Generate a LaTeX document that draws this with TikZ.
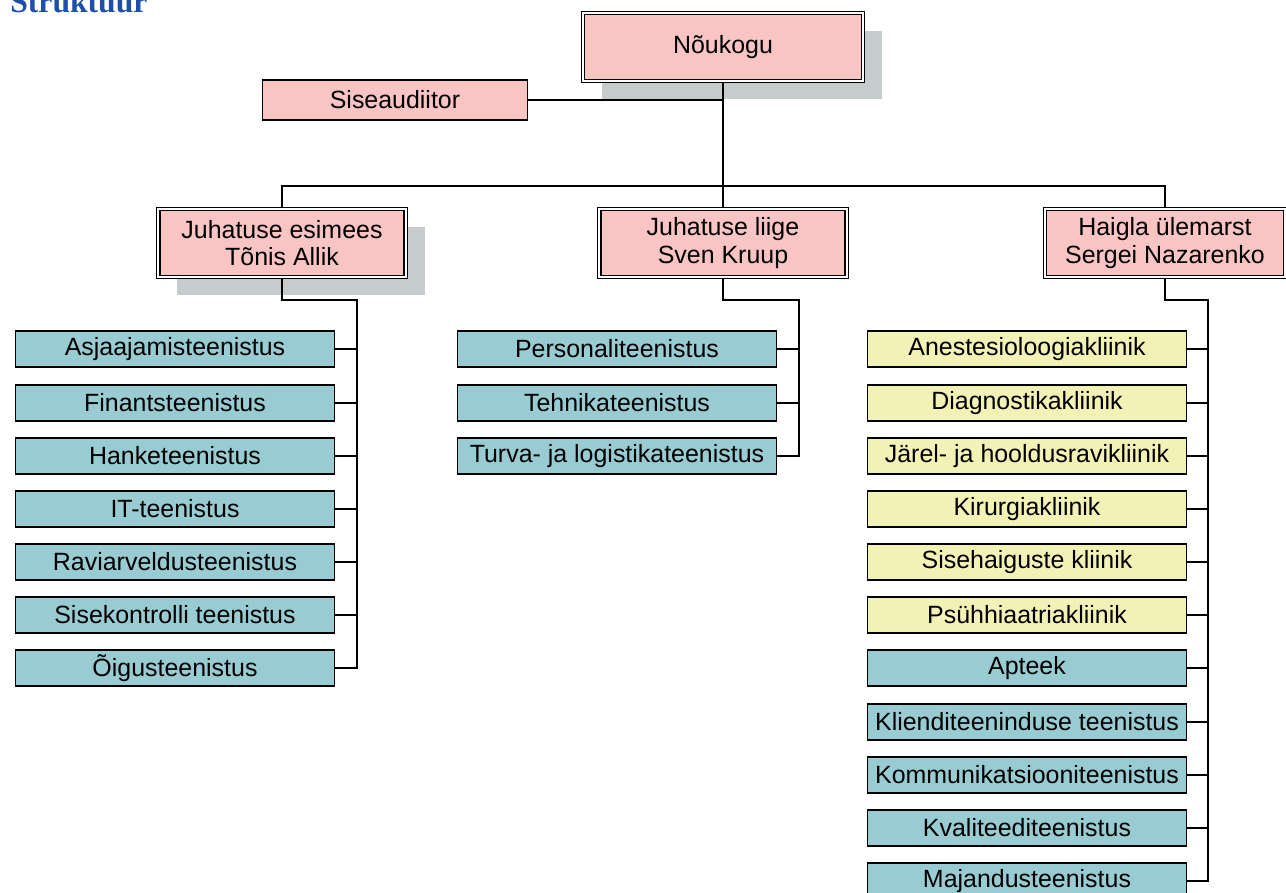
\documentclass[tikz,border=0pt]{standalone}
\usepackage{fontspec}
\setmainfont{Liberation Sans}
\newfontfamily\titlefont{Liberation Serif}
\usetikzlibrary{shadows}

\definecolor{roosa}{RGB}{248,196,196}
\definecolor{sinine}{RGB}{152,204,210}
\definecolor{kollane}{RGB}{242,242,182}
\definecolor{vari}{RGB}{198,204,204}
\definecolor{pealkiri}{RGB}{30,80,170}

\begin{document}
\begin{tikzpicture}
      [x=0.02cm, y=-0.02cm, font=\fontsize{14.2}{15.5}\selectfont,
       juht/.style={rectangle,draw=black,double,double distance=1.2pt,line width=0.7pt,
                    fill=roosa,minimum height=1.36cm,align=center,inner sep=0pt},
       varjuga/.style={drop shadow={shadow xshift=0.38cm,shadow yshift=-0.36cm,fill=vari,opacity=1}},
       audit/.style={rectangle,draw=black,line width=0.8pt,fill=roosa,
                     minimum width=5.3cm,minimum height=0.8cm,inner sep=0pt},
       teenistus/.style={rectangle,draw=black,line width=0.8pt,fill=sinine,
                         minimum width=6.38cm,minimum height=0.72cm,inner sep=0pt},
       kliinik/.style={teenistus,fill=kollane},
       joon/.style={line width=0.6pt}]
      \path[use as bounding box, clip] (0,0) rectangle (1286,893);

      \node (P) at (10,12) [anchor=base west,inner sep=0pt,text=pealkiri,
            font=\titlefont\bfseries\fontsize{18}{20}\selectfont] {Struktuur};

      \node (N) at (723,47) [juht,varjuga,minimum width=5.6cm] {Nõukogu};
      \node (S) at (395,100) [audit] {Siseaudiitor};

      \node (J1) at (282,243) [juht,varjuga,minimum width=4.95cm] {Juhatuse esimees\\Tõnis Allik};
      \node (J2) at (723,243) [juht,minimum width=4.95cm] {Juhatuse liige\\Sven Kruup};
      \node (J3) at (1165,243) [juht,minimum width=4.8cm] {Haigla ülemarst\\Sergei Nazarenko};

      \coordinate (T) at (723,186);
      \coordinate (R1) at (357,300);
      \coordinate (R2) at (799,300);
      \coordinate (R3) at (1208,300);

      \node (A1) at (175,349) [teenistus] {Asjaajamisteenistus};
      \node (A2) at (175,403) [teenistus] {Finantsteenistus};
      \node (A3) at (175,456) [teenistus] {Hanketeenistus};
      \node (A4) at (175,509) [teenistus] {IT-teenistus};
      \node (A5) at (175,562) [teenistus] {Raviarveldusteenistus};
      \node (A6) at (175,615) [teenistus] {Sisekontrolli teenistus};
      \node (A7) at (175,668) [teenistus] {Õigusteenistus};

      \node (B1) at (617,349) [teenistus] {Personaliteenistus};
      \node (B2) at (617,403) [teenistus] {Tehnikateenistus};
      \node (B3) at (617,456) [teenistus] {Turva- ja logistikateenistus};

      \node (C1) at (1027,349) [kliinik] {Anestesioloogiakliinik};
      \node (C2) at (1027,403) [kliinik] {Diagnostikakliinik};
      \node (C3) at (1027,456) [kliinik] {Järel- ja hooldusravikliinik};
      \node (C4) at (1027,509) [kliinik] {Kirurgiakliinik};
      \node (C5) at (1027,562) [kliinik] {Sisehaiguste kliinik};
      \node (C6) at (1027,615) [kliinik] {Psühhiaatriakliinik};
      \node (C7) at (1027,668) [teenistus] {Apteek};
      \node (C8) at (1027,722) [teenistus] {Klienditeeninduse teenistus};
      \node (C9) at (1027,775) [teenistus] {Kommunikatsiooniteenistus};
      \node (C10) at (1027,828) [teenistus] {Kvaliteediteenistus};
      \node (C11) at (1027,881) [teenistus] {Majandusteenistus};

      \draw[joon] (N.south) -- (J2.north);
      \draw[joon] (S.east) -- (S.east -| N.south);
      \draw[joon] (J1.north) |- (T) -| (J3.north);

      \draw[joon] (J1.south) |- (R1) |- (A7.east);
      \draw[joon] (A1.east) -- (A1.east -| R1);
      \draw[joon] (A2.east) -- (A2.east -| R1);
      \draw[joon] (A3.east) -- (A3.east -| R1);
      \draw[joon] (A4.east) -- (A4.east -| R1);
      \draw[joon] (A5.east) -- (A5.east -| R1);
      \draw[joon] (A6.east) -- (A6.east -| R1);

      \draw[joon] (J2.south) |- (R2) |- (B3.east);
      \draw[joon] (B1.east) -- (B1.east -| R2);
      \draw[joon] (B2.east) -- (B2.east -| R2);

      \draw[joon] (J3.south) |- (R3) |- (C11.east);
      \draw[joon] (C1.east) -- (C1.east -| R3);
      \draw[joon] (C2.east) -- (C2.east -| R3);
      \draw[joon] (C3.east) -- (C3.east -| R3);
      \draw[joon] (C4.east) -- (C4.east -| R3);
      \draw[joon] (C5.east) -- (C5.east -| R3);
      \draw[joon] (C6.east) -- (C6.east -| R3);
      \draw[joon] (C7.east) -- (C7.east -| R3);
      \draw[joon] (C8.east) -- (C8.east -| R3);
      \draw[joon] (C9.east) -- (C9.east -| R3);
      \draw[joon] (C10.east) -- (C10.east -| R3);
\end{tikzpicture}
\end{document}
